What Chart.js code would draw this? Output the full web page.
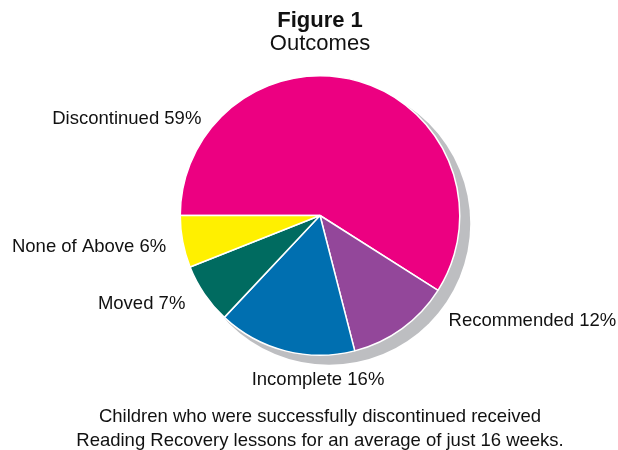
<!DOCTYPE html>
<html>
<head>
<meta charset="utf-8">
<script src="https://cdn.jsdelivr.net/npm/chart.js@4/dist/chart.umd.min.js"></script>
<style>
  html, body { margin: 0; padding: 0; background: #fff; }
  #wrap { width: 618px; height: 450px; }
</style>
</head>
<body>
<div id="wrap"><canvas id="myChart" width="618" height="450"></canvas></div>
<script>
// chart data
const categories = ["Discontinued", "Recommended", "Incomplete", "Moved", "None of Above"];
const percentages = [59, 12, 16, 7, 6];
const titleText = "Figure 1";
const subtitleText = "Outcomes";
const noteLines = [
    "Children who were successfully discontinued received",
    "Reading Recovery lessons for an average of just 16 weeks."
];

// slice colours
const sliceColors = ["#EC0081", "#93479A", "#006FB0", "#006B60", "#FFF000"];

// where each slice label sits, as angle (deg, clockwise from 3 o'clock) and radius factor
const labelSpots = [
    { angle: 219.1, dist: 1.094, align: "right" },
    { angle: 39.4, dist: 1.191, align: "left" },
    { angle: 90.7, dist: 1.173, align: "center" },
    { angle: 146.7, dist: 1.153, align: "right" },
    { angle: 168.5, dist: 1.123, align: "right" }
];

const fontFamily = '"Liberation Sans", Arial, Helvetica, sans-serif';

// grey drop shadow behind the pie
const pieShadow = {
    id: "pieShadow",
    beforeDatasetsDraw(chart) {
        const arc = chart.getDatasetMeta(0).data[0];
        if (!arc) return;
        const ctx = chart.ctx;
        ctx.save();
        ctx.fillStyle = "#BDBEC1";
        ctx.beginPath();
        ctx.arc(arc.x + 9, arc.y + 8, arc.outerRadius + 1.5, 0, Math.PI * 2);
        ctx.fill();
        ctx.restore();
    }
};

// titles, slice labels and the note under the chart
const textLayer = {
    id: "textLayer",
    afterDraw(chart) {
        const ctx = chart.ctx;
        const arcs = chart.getDatasetMeta(0).data;
        if (!arcs.length) return;
        const cx = arcs[0].x;
        const cy = arcs[0].y;
        const r = arcs[0].outerRadius;

        ctx.save();
        ctx.fillStyle = "#111";
        ctx.textAlign = "center";
        ctx.textBaseline = "alphabetic";

        ctx.font = "bold 22px " + fontFamily;
        ctx.fillText(titleText, 320, 27);
        ctx.font = "22px " + fontFamily;
        ctx.fillText(subtitleText, 320, 49.5);

        ctx.font = "18.5px " + fontFamily;
        ctx.fillText(noteLines[0], 320, 421.5);
        ctx.fillText(noteLines[1], 320, 445.5);

        ctx.textBaseline = "middle";
        categories.forEach((name, i) => {
            const spot = labelSpots[i];
            const a = spot.angle * Math.PI / 180;
            const x = cx + Math.cos(a) * r * spot.dist;
            const y = cy + Math.sin(a) * r * spot.dist;
            ctx.textAlign = spot.align;
            ctx.fillText(name + " " + percentages[i] + "%", x, y);
        });
        ctx.restore();
    }
};

const ctx = document.getElementById("myChart");
const myChart = new Chart(ctx, {
    type: "pie",
    data: {
        labels: categories,
        datasets: [{
            data: percentages,
            backgroundColor: sliceColors,
            borderColor: "#ffffff",
            borderWidth: 1.5
        }]
    },
    options: {
        responsive: false,
        animation: false,
        rotation: 270,
        layout: {
            padding: { left: 179.5, right: 157.5, top: 75, bottom: 94 }
        },
        plugins: {
            legend: { display: false },
            tooltip: { enabled: false }
        }
    },
    plugins: [pieShadow, textLayer]
});
</script>
</body>
</html>
